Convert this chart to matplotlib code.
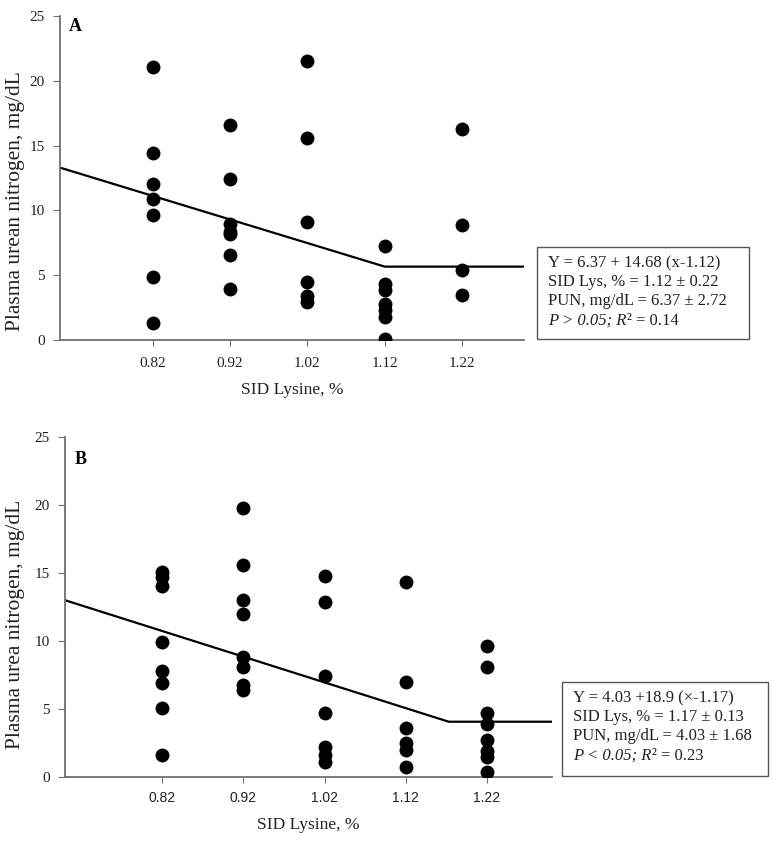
import matplotlib
matplotlib.use("Agg")
import matplotlib.pyplot as plt
from matplotlib.patches import Rectangle

plt.rcParams["font.family"] = ["Liberation Serif", "DejaVu Serif"]

# panel A - plasma urean nitrogen
a_x = [0.82] * 7 + [0.92] * 7 + [1.02] * 6 + [1.12] * 7 + [1.22] * 4
a_y = [21.1, 14.4, 12.0, 10.9, 9.65, 4.85, 1.35,
       16.6, 12.4, 8.95, 8.3, 8.2, 6.55, 3.95,
       21.5, 15.6, 9.1, 4.5, 3.4, 2.9,
       7.28, 4.35, 3.85, 2.8, 2.3, 1.75, 0.05,
       16.3, 8.85, 5.4, 3.45]
a_line_x = [0.70, 1.12, 1.30]
a_line_y = [13.3, 5.66, 5.66]
a_text = ["Y = 6.37 + 14.68 (x-1.12)",
          "SID Lys, % = 1.12 \u00b1 0.22",
          "PUN, mg/dL = 6.37 \u00b1 2.72"]
a_stats = ("P > 0.05; R", "\u00b2 = 0.14")

# panel B - plasma urea nitrogen
b_x = [0.82] * 8 + [0.92] * 8 + [1.02] * 7 + [1.12] * 6 + [1.22] * 8
b_y = [15.1, 14.7, 14.05, 9.95, 7.75, 6.9, 5.05, 1.6,
       19.8, 15.6, 13.0, 12.0, 8.8, 8.1, 6.75, 6.4,
       14.8, 12.85, 7.4, 4.7, 2.2, 1.6, 1.1,
       14.37, 7.0, 3.6, 2.5, 2.0, 0.74,
       9.63, 8.05, 4.72, 3.86, 2.7, 1.92, 1.43, 0.37]
b_line_x = [0.70, 1.173, 1.30]
b_line_y = [13.0, 4.05, 4.05]
b_text = ["Y = 4.03 +18.9 (\u00d7-1.17)",
          "SID Lys, % = 1.17 \u00b1 0.13",
          "PUN, mg/dL = 4.03 \u00b1 1.68"]
b_stats = ("P < 0.05; R", "\u00b2 = 0.23")

xticks = [0.82, 0.92, 1.02, 1.12, 1.22]
yticks = [0, 5, 10, 15, 20, 25]

W, H = 772, 841
fig = plt.figure(figsize=(W / 100, H / 100), dpi=100)

axcol = "#707070"
txtcol = "#222222"


def panel(rect, xs, ys, lx, ly, letter, letter_pos, ylabel, ylab_pos, lines,
          stats, box, tickfont, ticksize, tickpad):
    ax = fig.add_axes(rect)
    ax.scatter(xs, ys, s=100, color="black", zorder=3, linewidths=0)
    ax.plot(lx, ly, color="black", lw=1.6, zorder=2)
    ax.set_xlim(0.70, 1.30)
    ax.set_ylim(0, 25)
    ax.set_xticks(xticks)
    ax.set_xticklabels(["%.2f" % t for t in xticks], family=tickfont,
                       fontsize=ticksize, color=txtcol)
    ax.set_yticks(yticks)
    ax.set_yticklabels([str(t) for t in yticks], fontsize=11, color=txtcol)
    for s in ["top", "right"]:
        ax.spines[s].set_visible(False)
    for s in ["left", "bottom"]:
        ax.spines[s].set_color(axcol)
        ax.spines[s].set_linewidth(1.3)
    ax.tick_params(axis="x", length=4, color=axcol, pad=tickpad)
    ax.tick_params(axis="y", length=5, color=axcol, pad=6)
    ax.set_xlabel("SID Lysine, %", fontsize=12.5, labelpad=9, color=txtcol)
    ax.set_ylabel(ylabel, fontsize=15.5, color=txtcol)
    ax.yaxis.set_label_coords(*ylab_pos)
    ax.text(letter_pos[0], letter_pos[1], letter, transform=ax.transAxes,
            fontsize=13, fontweight="bold", va="top", ha="left")
    # box with the fit results
    x0, y0, x1, y1 = box
    fig.patches.append(Rectangle((x0 / W, 1 - y1 / H), (x1 - x0) / W, (y1 - y0) / H,
                                 transform=fig.transFigure, fc="white",
                                 ec="#555555", lw=1.0))
    for i, ln in enumerate(lines):
        fig.text((x0 + 11) / W, 1 - (y0 + 16 + 19.2 * i) / H, ln,
                 fontsize=12, va="center", ha="left", color=txtcol)
    fig.text((x0 + 11) / W, 1 - (y0 + 16 + 19.2 * 3) / H, stats[0],
             fontsize=12, va="center", ha="left", color=txtcol, style="italic")
    fig.text(0, 0, stats[1], fontsize=12, va="bottom", ha="left", color=txtcol)
    return ax


def place_stats(fig):
    # put the "² = ..." part right after the italic text
    fig.canvas.draw()
    r = fig.canvas.get_renderer()
    texts = fig.texts
    for i, t in enumerate(texts):
        if t.get_text() in (a_stats[1], b_stats[1]):
            bb = texts[i - 1].get_window_extent(r)
            x, y = fig.transFigure.inverted().transform((bb.x1 + 1, bb.y0))
            t.set_position((x, y))


panel([60 / W, 1 - 340 / H, 464 / W, 324 / H], a_x, a_y, a_line_x, a_line_y,
      "A", (0.018, 0.995), "Plasma urean nitrogen, mg/dL", (-0.075, 0.43),
      a_text, a_stats, (537, 247, 749, 339), "Liberation Serif", 11, 8)
panel([65 / W, 1 - 776.7 / H, 486.7 / W, 339.4 / H], b_x, b_y, b_line_x, b_line_y,
      "B", (0.02, 0.96), "Plasma urea nitrogen, mg/dL", (-0.082, 0.448),
      b_text, b_stats, (562, 682, 768, 776), "Liberation Sans", 10, 6)
place_stats(fig)

fig.savefig("out.png", dpi=100)
